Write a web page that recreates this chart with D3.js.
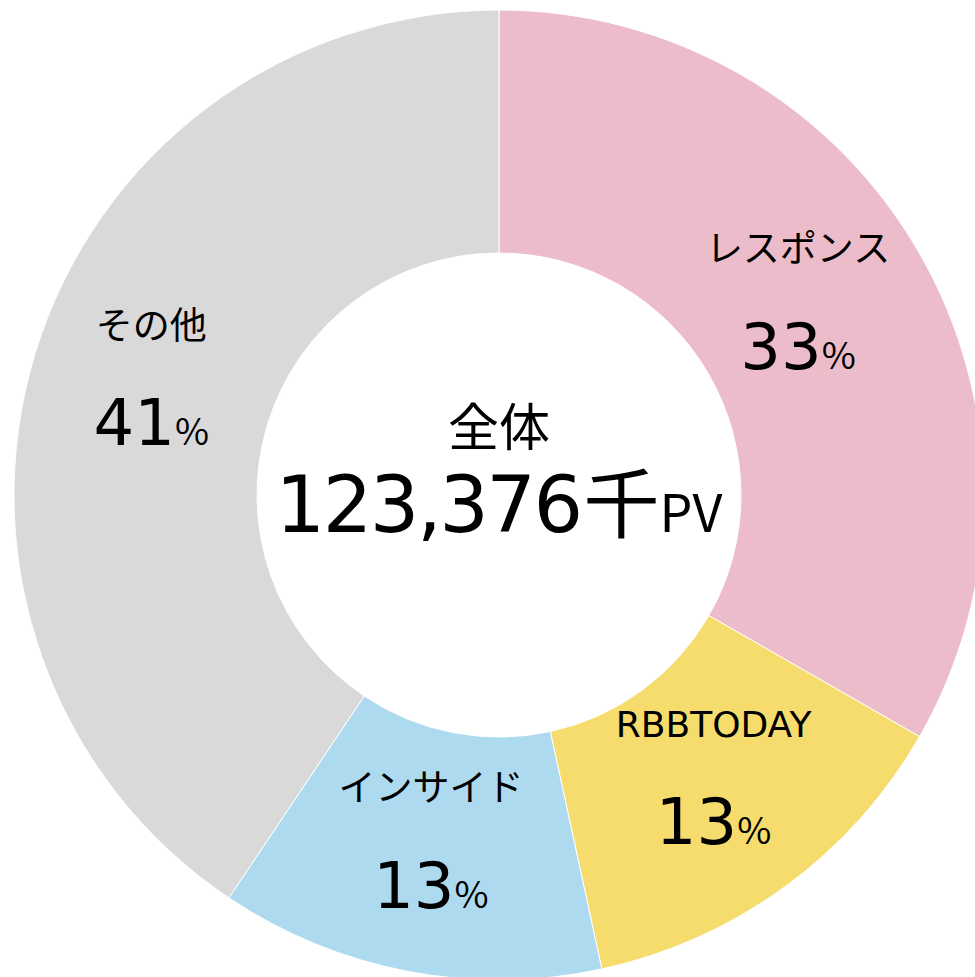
<!DOCTYPE html>
<html>
<head>
<meta charset="utf-8">
<script src="https://cdn.jsdelivr.net/npm/d3@7"></script>
<style>
  body { margin: 0; background: #fff; }
  svg text { font-family: "DejaVu Sans", "Noto Sans CJK JP", sans-serif; fill: #000; }
  svg .cjk { font-family: "Noto Sans CJK JP", "Noto Sans", sans-serif; }
</style>
</head>
<body>
<div id="chart"></div>
<script>
// media names, share of page views (%), rounded labels
var names = ["レスポンス", "RBBTODAY", "インサイド", "その他"];
var shares = [33.3, 13.3, 12.8, 40.6];
var labels = ["33", "13", "13", "41"];
var colors = ["#ECBCCA", "#F5DC6C", "#ADDAEE", "#D9D9D9"];
var totalTitle = "全体";
var totalValue = "123,376";
var totalUnit = "千";
var totalUnit2 = "PV";

var w = 975;
var h = 977;
var cx = 499;
var cy = 495;
var outerR = 485;
var innerR = 242;

var svg = d3.select("#chart").append("svg")
      .attr("width", w)
      .attr("height", h);

var chart = svg.append("g")
      .attr("transform", "translate(" + cx + "," + cy + ")");

var data = names.map(function(d, i) {
  return { name: d, value: shares[i], label: labels[i], color: colors[i] };
});

var pie = d3.pie()
      .sort(null)
      .value(function(d) { return d.value; });

var arc = d3.arc()
      .innerRadius(innerR)
      .outerRadius(outerR);

var arcs = pie(data);

chart.selectAll(".slice")
  .data(arcs)
  .enter()
    .append("path")
    .classed("slice", true)
    .attr("d", arc)
    .attr("fill", function(d) { return d.data.color; })
    .attr("stroke", "#fff")
    .attr("stroke-width", 1);

// labels sit around the arc centroid, kept inside the right edge
var labelG = chart.selectAll(".label")
  .data(arcs)
  .enter()
    .append("g")
    .classed("label", true)
    .attr("transform", function(d) {
      var c = arc.centroid(d);
      var x = Math.min(c[0], w - cx - 177);
      return "translate(" + x + "," + c[1] + ")";
    });

labelG.append("text")
  .attr("text-anchor", "middle")
  .attr("y", -64)
  .attr("dy", "0.36em")
  .style("font-size", function(d) { return /^[A-Z]+$/.test(d.data.name) ? "36px" : "37px"; })
  .text(function(d) { return d.data.name; });

var pct = labelG.append("text")
  .attr("text-anchor", "middle")
  .attr("y", 56);
pct.append("tspan")
  .style("font-size", "64px")
  .text(function(d) { return d.data.label; });
pct.append("tspan")
  .classed("cjk", true)
  .style("font-size", "37px")
  .text("%");

// centre text
chart.append("text")
  .classed("cjk", true)
  .attr("text-anchor", "middle")
  .attr("y", -67)
  .attr("dy", "0.36em")
  .style("font-size", "51px")
  .text(totalTitle);

var total = chart.append("text")
  .attr("text-anchor", "middle")
  .attr("y", 37);
total.append("tspan")
  .style("font-size", "78px")
  .style("letter-spacing", "-2.5px")
  .text(totalValue);
total.append("tspan")
  .classed("cjk", true)
  .attr("dx", 3)
  .style("font-size", "76px")
  .text(totalUnit);
total.append("tspan")
  .classed("cjk", true)
  .style("font-size", "52px")
  .text(totalUnit2);
</script>
</body>
</html>
